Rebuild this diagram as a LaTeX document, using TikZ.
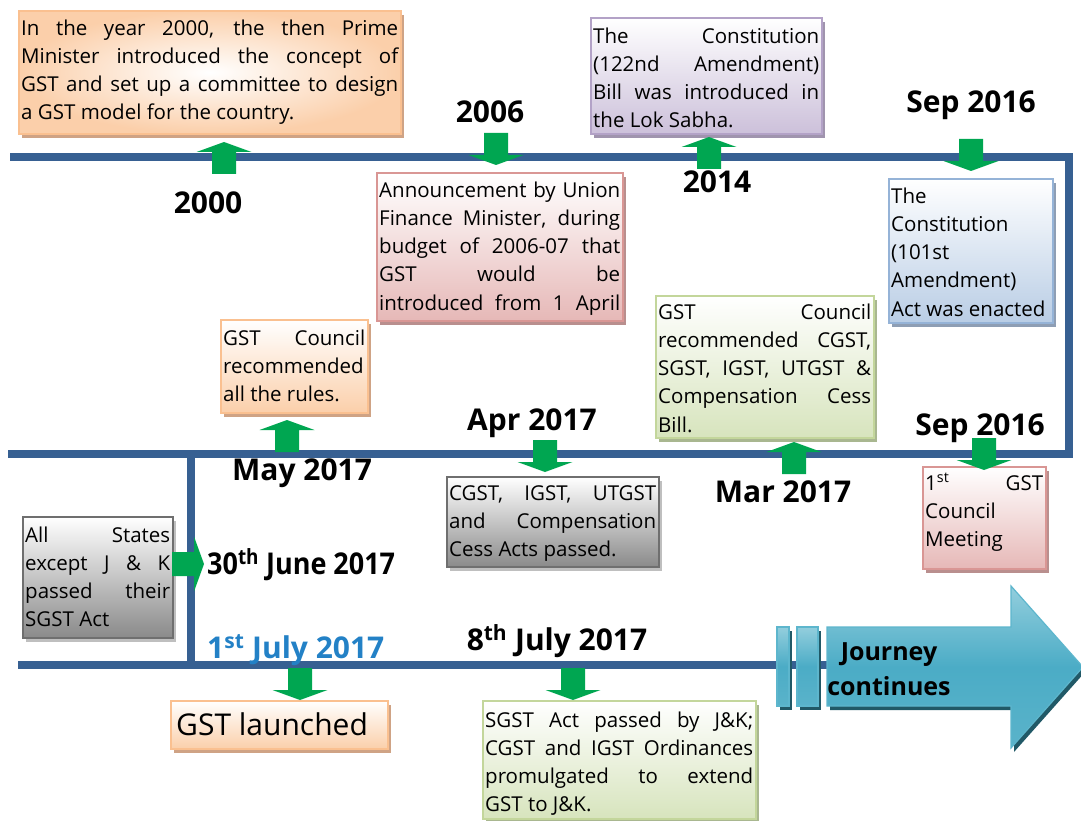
\documentclass[tikz,border=0pt]{standalone}
\usepackage{fontspec}
\usepackage{graphicx}
\setmainfont{Open Sans}
\usetikzlibrary{shadows}
\definecolor{tline}{HTML}{376092}
\definecolor{garr}{HTML}{00A651}
\definecolor{julyblue}{HTML}{2381C6}
\definecolor{orangeborder}{HTML}{FAC090}
\definecolor{orangefill}{HTML}{FBCFAA}
\definecolor{orangeshadow}{HTML}{CFA385}
\definecolor{pinkborder}{HTML}{D99694}
\definecolor{pinkfill}{HTML}{E6B8B7}
\definecolor{pinkshadow}{HTML}{B98F8E}
\definecolor{purpleborder}{HTML}{B3A2C7}
\definecolor{purplefill}{HTML}{CCC0DA}
\definecolor{purpleshadow}{HTML}{A094AE}
\definecolor{blueborder}{HTML}{95B3D7}
\definecolor{bluefill}{HTML}{B9CDE5}
\definecolor{blueshadow}{HTML}{8E9EB4}
\definecolor{greenborder}{HTML}{C3D69B}
\definecolor{greenfill}{HTML}{D7E4BD}
\definecolor{greenshadow}{HTML}{A9B790}
\definecolor{grayborder}{HTML}{6F6F6F}
\definecolor{grayfill}{HTML}{8A8A8A}
\definecolor{grayshadow}{HTML}{BFBFBF}
\definecolor{jtop}{HTML}{93CEDD}
\definecolor{jmid}{HTML}{4BACC6}
\definecolor{jbot}{HTML}{5AB3CA}
\definecolor{jborder}{HTML}{5DB6CD}
\definecolor{jshadow}{HTML}{215967}
\newcommand\bodyfont{\fontsize{20.5}{28.3}\selectfont}
\newcommand\labfont{\fontsize{30}{36}\selectfont\bfseries}
\newcommand\jl[1]{\hbox to\hsize{\spaceskip=0pt\xspaceskip=0pt\strut#1}}
\tikzset{
  evbox/.style={draw=#1border, line width=1.6pt, top color=white, bottom color=#1fill,
    general shadow={fill=#1shadow, shadow xshift=3.5pt, shadow yshift=-4pt},
    inner sep=0pt, anchor=north west},
  evboxr/.style={draw=#1border, line width=1.6pt, inner color=white, outer color=#1fill,
    general shadow={fill=#1shadow, shadow xshift=3.5pt, shadow yshift=-4pt},
    inner sep=0pt, anchor=north west},
  txt/.style={inner sep=0pt, anchor=north west, font=\bodyfont, text=black},
  lab/.style={inner sep=0pt, anchor=base, font=\labfont, text=black},
  tl/.style={draw=tline, line width=8pt, line join=miter},
  journey/.style={draw=jborder, line width=1.2pt, top color=jtop, bottom color=jbot, middle color=jmid,
    general shadow={fill=jshadow, shadow xshift=3pt, shadow yshift=-4pt}},
  gdown/.pic={\fill[garr] (-12,-32) -- (12,-32) -- (12,-10) -- (27.5,-10) -- (0,0) -- (-27.5,-10) -- (-12,-10) -- cycle;},
  gup/.pic={\fill[garr] (-12,32) -- (12,32) -- (12,10) -- (27.5,10) -- (0,0) -- (-27.5,10) -- (-12,10) -- cycle;},
  gright/.pic={\fill[garr] (-32,-12) -- (-32,12) -- (-10,12) -- (-10,27.5) -- (0,0) -- (-10,-27.5) -- (-10,-12) -- cycle;}
}
\begin{document}
\begin{tikzpicture}[x=1pt,y=-1pt]
\useasboundingbox (0,0) rectangle (1081,821);
% timeline
\coordinate (tA) at (10,157);
\coordinate (tB) at (1069,157);
\coordinate (tC) at (1069,454);
\coordinate (tD) at (8,454);
\coordinate (vA) at (191,454);
\coordinate (vB) at (191,665);
\coordinate (bA) at (18,665);
\coordinate (bB) at (830,665);
\draw[tl] (tA) -- (tB) -- (tC) -- (tD);
\draw[tl] (vA) -- (vB);
\draw[tl] (bA) -- (bB);

% boxes
\node[evboxr=orange, minimum width=382pt, minimum height=123pt] (b2000) at (18,10) {};
\node[txt, text width=377pt] (t2000) at ([shift={(3pt,-5pt)}]b2000.north west) {\vbox{%
\jl{In the year 2000, the then Prime}
\jl{Minister introduced the concept of}
\jl{GST and set up a committee to design}
\jl{a GST model for the country.\hfil}}};

\node[evbox=pink, minimum width=246pt, minimum height=148pt] (b2006) at (376,172) {};
\node[txt, text width=241pt] (t2006) at ([shift={(3pt,-5pt)}]b2006.north west) {\vbox{%
\jl{Announcement by Union}
\jl{Finance Minister, during}
\jl{budget of 2006-07 that}
\jl{GST would be}
\jl{introduced from 1 April}}};

\node[evbox=purple, minimum width=231pt, minimum height=116pt] (b2014) at (590,17) {};
\node[txt, text width=226pt] (t2014) at ([shift={(3pt,-6pt)}]b2014.north west) {\vbox{%
\jl{The Constitution}
\jl{(122nd Amendment)}
\jl{Bill was introduced in}
\jl{the Lok Sabha.\hfil}}};

\node[evbox=blue, minimum width=164pt, minimum height=144pt] (bsep1) at (888,178) {};
\node[txt, text width=159pt] (tsep1) at ([shift={(3pt,-5pt)}]bsep1.north west) {\vbox{%
\jl{The\hfil}
\jl{Constitution\hfil}
\jl{(101st\hfil}
\jl{Amendment)\hfil}
\jl{Act was enacted\hfil}}};

\node[evbox=orange, minimum width=147pt, minimum height=93pt] (bmay) at (220,319) {};
\node[txt, text width=142pt] (tmay) at ([shift={(3pt,-6pt)}]bmay.north west) {\vbox{%
\jl{GST Council}
\jl{recommended\hfil}
\jl{all the rules.\hfil}}};

\node[evbox=green, minimum width=218pt, minimum height=142pt] (bmar) at (655,295) {};
\node[txt, text width=213pt] (tmar) at ([shift={(3pt,-4pt)}]bmar.north west) {\vbox{%
\jl{GST Council}
\jl{recommended CGST,}
\jl{SGST, IGST, UTGST \&}
\jl{Compensation Cess}
\jl{Bill.\hfil}}};

\node[evbox=gray, minimum width=212pt, minimum height=90pt] (bapr) at (446,476) {};
\node[txt, text width=207pt] (tapr) at ([shift={(3pt,-4pt)}]bapr.north west) {\vbox{%
\jl{CGST, IGST, UTGST}
\jl{and Compensation}
\jl{Cess Acts passed.\hfil}}};

\node[evbox=pink, minimum width=123pt, minimum height=102pt] (bsep2) at (922,466) {};
\node[txt, text width=118pt] (tsep2) at ([shift={(3pt,-4pt)}]bsep2.north west) {\vbox{%
\jl{1\textsuperscript{st} GST}
\jl{Council\hfil}
\jl{Meeting\hfil}}};

\node[evbox=gray, minimum width=150pt, minimum height=121pt] (bjune) at (22,516) {};
\node[txt, text width=145pt] (tjune) at ([shift={(3pt,-6pt)}]bjune.north west) {\vbox{%
\jl{All States}
\jl{except J \& K}
\jl{passed their}
\jl{SGST Act\hfil}}};

\node[evbox=orange, minimum width=217pt, minimum height=48pt] (blaunch) at (170,700) {};
\node[inner sep=0pt, anchor=base west, font=\fontsize{30}{36}\selectfont] (tlaunch) at (176,735) {GST launched};

\node[evbox=green, minimum width=273pt, minimum height=118pt] (bjuly) at (482,700) {};
\node[txt, text width=268pt] (tjuly) at ([shift={(3pt,-7pt)}]bjuly.north west) {\vbox{%
\jl{SGST Act passed by J\&K;}
\jl{CGST and IGST Ordinances}
\jl{promulgated to extend}
\jl{GST to J\&K.\hfil}}};

% green arrows
\pic at (224,142) {gup};
\pic at (709,137) {gup};
\pic at (287,420) {gup};
\pic at (794,442) {gup};
\pic at (496,165) {gdown};
\pic at (971,171) {gdown};
\pic at (545,472) {gdown};
\pic at (984,470) {gdown};
\pic at (300,700) {gdown};
\pic at (573,700) {gdown};
\pic at (204,564) {gright};

% labels
\node[lab] (l2000) at (208,213) {2000};
\node[lab] (l2006) at (490,123) {2006};
\node[lab] (l2014) at (717,193) {2014};
\node[lab] (lsep1) at (971,113) {Sep 2016};
\node[lab] (lmay) at (302,480) {May 2017};
\node[lab] (lapr) at (532,430) {Apr 2017};
\node[lab] (lmar) at (783,502) {Mar 2017};
\node[lab] (lsep2) at (980,435) {Sep 2016};
\node[lab, anchor=base west] (ljune) at (207,574) {\scalebox{0.9}[1]{30\textsuperscript{th} June 2017}};
\node[lab, anchor=base west, text=julyblue] (ljuly1) at (207,658) {1\textsuperscript{st} July 2017};
\node[lab] (ljuly8) at (557,650) {8\textsuperscript{th} July 2017};

% journey arrow
\path[journey] (777,627) rectangle (789,706);
\path[journey] (797,627) rectangle (818,706);
\path[journey] (827,627) -- (1011,627) -- (1011,586) -- (1083,667) -- (1011,748) -- (1011,706) -- (827,706) -- cycle;
\node[inner sep=0pt, align=center, font=\fontsize{25}{35}\selectfont\bfseries] (jc) at (889,669) {Journey\\continues};
\end{tikzpicture}
\end{document}
